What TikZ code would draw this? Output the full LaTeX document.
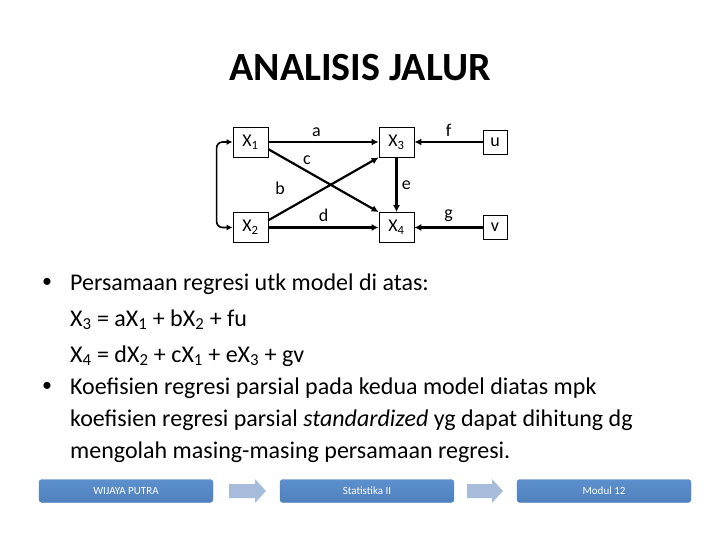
\documentclass[tikz,border=0pt]{standalone}
\usepackage{fontspec}
\setmainfont{Carlito}
\usetikzlibrary{arrows.meta}

\definecolor{footblue}{RGB}{79,129,189}
\definecolor{foottop}{RGB}{92,143,205}
\definecolor{footarrow}{RGB}{167,188,219}

\begin{document}
\begin{tikzpicture}[x=1pt,y=-1pt,
        box/.style={draw,line width=0.8pt,minimum width=35pt,minimum height=30pt,inner sep=0pt,font=\fontsize{18}{20}\selectfont},
        lbl/.style={font=\fontsize{18}{20}\selectfont},
        link/.style={line width=2.2pt,-{Latex[length=7pt,width=7pt]}},
        body/.style={anchor=base west,inner sep=0pt,font=\fontsize{24}{28}\selectfont},
        foot/.style={rounded corners=3pt,top color=foottop,bottom color=footblue,draw=footblue,
            minimum width=174pt,minimum height=23pt,inner sep=0pt,text=white,font=\fontsize{11}{12}\selectfont}]
        \useasboundingbox (0,0) rectangle (720,540);

        % title
        \node[font=\bfseries\fontsize{40}{44}\selectfont] (title) at (360,68) {ANALISIS JALUR};

        % path model
        \node[box] (x1) at (250.5,142) {X\textsubscript{1}};
        \node[box] (x2) at (250.5,227.5) {X\textsubscript{2}};
        \node[box] (x3) at (396.5,142) {X\textsubscript{3}};
        \node[box] (x4) at (396.5,227.5) {X\textsubscript{4}};
        \node[box,minimum width=24pt,minimum height=24pt] (u) at (495,142) {u};
        \node[box,minimum width=24pt,minimum height=24pt] (v) at (495,227.5) {v};

        \draw[link] (x1) -- (x3) node[lbl,midway,above=1pt,xshift=-7pt] {a};
        \draw[link] (x2) -- (x4) node[lbl,midway,above=1pt] {d};
        \draw[link] (x1.-22) -- (x4.north west);
        \draw[link] (x2.22) -- (x3.south west);
        \draw[link] (x3) -- (x4) node[lbl,midway,right=1pt] {e};
        \draw[link] (u) -- (x3) node[lbl,midway,above=1pt] {f};
        \draw[link] (v) -- (x4) node[lbl,midway,above=1pt] {g};
        \draw[line width=1.6pt,{Latex[length=6pt,width=6pt]}-{Latex[length=6pt,width=6pt]},rounded corners=6pt] (x1.west) -- ++(-16,0) |- (x2.west);

        \node[lbl] (c) at (307,160) {c};
        \node[lbl] (b) at (280,188) {b};

        % text
        \node[font=\fontsize{20}{24}\selectfont] (bul1) at (47,283) {\textbullet};
        \node[body] (t1) at (70,290) {Persamaan regresi utk model di atas:};
        \node[body] (t2) at (70,326) {X\textsubscript{3} = aX\textsubscript{1} + bX\textsubscript{2} + fu};
        \node[body] (t3) at (70,362) {X\textsubscript{4} = dX\textsubscript{2} + cX\textsubscript{1} + eX\textsubscript{3} + gv};
        \node[font=\fontsize{20}{24}\selectfont] (bul2) at (47,387) {\textbullet};
        \node[body] (t4) at (70,394) {Koefisien regresi parsial pada kedua model diatas mpk};
        \node[body] (t5) at (70,426) {koefisien regresi parsial \textit{standardized} yg dapat dihitung dg};
        \node[body] (t6) at (70,458) {mengolah masing-masing persamaan regresi.};

        % footer
        \node[foot] (f1) at (126,491) {WIJAYA PUTRA};
        \node[foot] (f2) at (367,491) {Statistika II};
        \node[foot] (f3) at (604,491) {Modul 12};
        \fill[footarrow] (229,484) -- (255,484) -- (255,479) -- (266,491) -- (255,503) -- (255,498) -- (229,498) -- cycle;
        \fill[footarrow] (467,484) -- (492,484) -- (492,479) -- (503,491) -- (492,503) -- (492,498) -- (467,498) -- cycle;
\end{tikzpicture}
\end{document}
